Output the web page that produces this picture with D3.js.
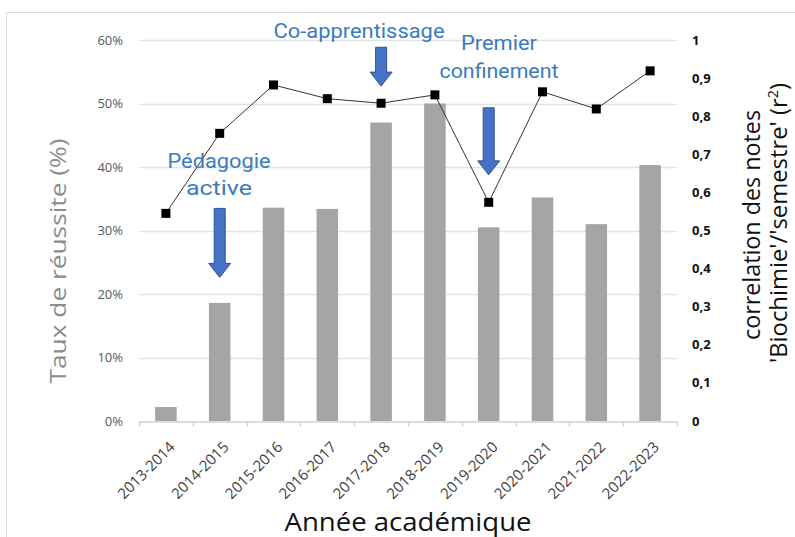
<!DOCTYPE html>
<html>
<head>
<meta charset="utf-8">
<script src="https://cdn.jsdelivr.net/npm/d3@7"></script>
<style>
  body { margin: 0; background: #fff; }
  svg { display: block; font-family: "Open Sans", "Noto Sans", sans-serif; }
</style>
</head>
<body>
<svg id="chart"></svg>
<script>
// data
const years = ['2013-2014', '2014-2015', '2015-2016', '2016-2017', '2017-2018',
               '2018-2019', '2019-2020', '2020-2021', '2021-2022', '2022-2023']
const reussite = [0.022, 0.186, 0.336, 0.334, 0.470, 0.500, 0.305, 0.352, 0.310, 0.403]
const correlation = [0.545, 0.755, 0.882, 0.846, 0.834, 0.856, 0.574, 0.864, 0.819, 0.919]
const leftTicks = [0, 0.1, 0.2, 0.3, 0.4, 0.5, 0.6]
const rightTicks = [0, 0.1, 0.2, 0.3, 0.4, 0.5, 0.6, 0.7, 0.8, 0.9, 1]

// annotations: label lines, the year the arrow points at, arrow top / tip on the right scale
const notes = [
  { lines: ['Pédagogie', 'active'], year: '2014-2015', top: 0.558, tip: 0.377 },
  { lines: ['Co-apprentissage'], year: '2017-2018', top: 0.981, tip: 0.879 },
  { lines: ['Premier', 'confinement'], year: '2019-2020', top: 0.822, tip: 0.646 }
]

const width = 795
const height = 537
const margin = { left: 139, right: 118, top: 40, bottom: 116 }

let svg = d3.select('#chart').attr('width', width).attr('height', height)

// light frame around the chart
svg.append('rect')
  .attr('x', 6.5).attr('y', 12.5)
  .attr('width', 900).attr('height', 700)
  .attr('fill', 'none').attr('stroke', '#d9d9d9')

let x = d3.scaleBand()
  .domain(years)
  .range([margin.left, width - margin.right])
  .paddingInner(0.6)
  .paddingOuter(0.3)

let xStep = d3.scaleBand().domain(years).range(x.range()).padding(0)

let y = d3.scaleLinear().domain([0, 0.6]).range([height - margin.bottom, margin.top])
let y2 = d3.scaleLinear().domain([0, 1]).range([height - margin.bottom, margin.top])

// gridlines
svg.append('g')
  .selectAll('line')
  .data(leftTicks.slice(1))
  .join('line')
  .attr('x1', x.range()[0]).attr('x2', x.range()[1])
  .attr('y1', d => Math.round(y(d)) + 0.5).attr('y2', d => Math.round(y(d)) + 0.5)
  .attr('stroke', '#e3e3e3').attr('stroke-width', 1.3)

// left axis labels
svg.append('g')
  .selectAll('text')
  .data(leftTicks)
  .join('text')
  .attr('x', 123)
  .attr('y', d => y(d))
  .attr('dy', '0.35em')
  .attr('text-anchor', 'end')
  .attr('font-size', 13)
  .attr('fill', '#595959')
  .text(d3.format('.0%'))

// right axis labels
svg.append('g')
  .selectAll('text')
  .data(rightTicks)
  .join('text')
  .attr('x', 692)
  .attr('y', d => y2(d))
  .attr('dy', '0.35em')
  .attr('font-size', 13)
  .attr('font-weight', 'bold')
  .attr('fill', '#111')
  .text(d => (d === 0 || d === 1) ? String(d) : d.toFixed(1).replace('.', ','))

// bars
svg.append('g')
  .selectAll('rect')
  .data(years)
  .join('rect')
  .attr('x', d => x(d))
  .attr('width', x.bandwidth())
  .attr('y', (d, i) => y(reussite[i]))
  .attr('height', (d, i) => y(0) - y(reussite[i]))
  .attr('fill', '#a5a5a5')

// bottom axis, ticks on the band boundaries
let axis = svg.append('g')
  .attr('transform', `translate(0,${Math.round(y(0)) + 0.5})`)
  .call(d3.axisBottom(xStep).tickSize(0).tickFormat(''))
axis.select('.domain').attr('stroke', '#d0d0d0').attr('stroke-width', 1.3)
axis.selectAll('.tick').remove()
axis.selectAll('line.bound')
  .data(years.concat(['end']))
  .join('line')
  .attr('class', 'bound')
  .attr('x1', (d, i) => Math.round(xStep.range()[0] + i * xStep.step()) + 0.5)
  .attr('x2', (d, i) => Math.round(xStep.range()[0] + i * xStep.step()) + 0.5)
  .attr('y1', 0).attr('y2', 5)
  .attr('stroke', '#d0d0d0').attr('stroke-width', 1.3)

// rotated year labels
svg.append('g')
  .selectAll('text')
  .data(years)
  .join('text')
  .attr('transform', d => `translate(${x(d) + x.bandwidth() / 2 + 10},${y(0) + 27}) rotate(-45)`)
  .attr('text-anchor', 'end')
  .attr('font-size', 15)
  .attr('fill', '#404040')
  .text(d => d)

// correlation line
let line = d3.line()
  .x((d, i) => x(years[i]) + x.bandwidth() / 2)
  .y(d => y2(d))

svg.append('path')
  .datum(correlation)
  .attr('d', line)
  .attr('fill', 'none')
  .attr('stroke', '#333')
  .attr('stroke-width', 1)

svg.append('g')
  .selectAll('rect')
  .data(correlation)
  .join('rect')
  .attr('x', (d, i) => x(years[i]) + x.bandwidth() / 2 - 4.5)
  .attr('y', d => y2(d) - 4.5)
  .attr('width', 9).attr('height', 9)
  .attr('fill', '#000')

// annotation arrows
let arrows = svg.append('g')
notes.forEach(n => {
  const cx = x(n.year) + x.bandwidth() / 2
  const top = y2(n.top)
  const tip = y2(n.tip)
  const shaft = 5.5
  const head = 11
  const headLen = 14
  const pts = [
    [cx - shaft, top], [cx + shaft, top], [cx + shaft, tip - headLen],
    [cx + head, tip - headLen], [cx, tip], [cx - head, tip - headLen],
    [cx - shaft, tip - headLen]
  ]
  arrows.append('path')
    .attr('d', d3.line()(pts) + 'Z')
    .attr('fill', '#4472c4')
    .attr('stroke', '#2f528f')
    .attr('stroke-width', 1)
})

// annotation labels
const labelPos = [
  { x: 219, y: [168, 195], len: [103, 66] },
  { x: 359, y: [38], len: [171] },
  { x: 499, y: [50, 78], len: [76, 119] }
]
notes.forEach((n, k) => {
  n.lines.forEach((t, j) => {
    svg.append('text')
      .attr('x', labelPos[k].x)
      .attr('y', labelPos[k].y[j])
      .attr('text-anchor', 'middle')
      .attr('font-family', 'Roboto, sans-serif')
      .attr('font-size', 21)
      .attr('fill', '#3a7bbf')
      .attr('textLength', labelPos[k].len[j])
      .attr('lengthAdjust', 'spacingAndGlyphs')
      .text(t)
  })
})

// axis titles
svg.append('text')
  .attr('transform', 'translate(66,261) rotate(-90)')
  .attr('text-anchor', 'middle')
  .attr('font-size', 22)
  .attr('fill', '#8c8c8c')
  .attr('textLength', 245)
  .attr('lengthAdjust', 'spacingAndGlyphs')
  .text('Taux de réussite (%)')

svg.append('text')
  .attr('transform', 'translate(760,225) rotate(-90)')
  .attr('text-anchor', 'middle')
  .attr('font-size', 23)
  .attr('fill', '#111')
  .attr('textLength', 230)
  .attr('lengthAdjust', 'spacingAndGlyphs')
  .text('correlation des notes')

let t2 = svg.append('text')
  .attr('transform', 'translate(787,223) rotate(-90)')
  .attr('text-anchor', 'middle')
  .attr('font-size', 23)
  .attr('fill', '#111')
  .attr('textLength', 280)
  .attr('lengthAdjust', 'spacingAndGlyphs')
t2.append('tspan').text("'Biochimie'/'semestre' (r")
t2.append('tspan').attr('font-size', 14).attr('dy', -9).text('2')
t2.append('tspan').attr('dy', 9).text(')')

svg.append('text')
  .attr('x', 408)
  .attr('y', 531)
  .attr('text-anchor', 'middle')
  .attr('font-size', 25)
  .attr('fill', '#111')
  .attr('textLength', 247)
  .attr('lengthAdjust', 'spacingAndGlyphs')
  .text('Année académique')
</script>
</body>
</html>
